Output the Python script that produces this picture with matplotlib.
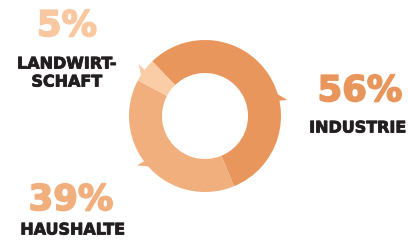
import numpy as np
import matplotlib
matplotlib.use("Agg")
from matplotlib import pyplot as plt
from matplotlib import patheffects as pe
from matplotlib.patches import Polygon

# data
labels = ["INDUSTRIE", "HAUSHALTE", "LANDWIRT-\nSCHAFT"]
shares = [56, 39, 5]
colors = ["#E9965D", "#F0AF7D", "#FBCDA7"]
pct_colors = ["#E9965D", "#F0AF7D", "#FAC8A0"]
# where the labels sit (pixel coords, y from top)
pct_pos = [(360, 91), (71, 200), (67, 26)]
name_pos = [(358, 128), (73, 230), (67, 73)]
# little arrow heads on the ring (angle in degrees)
arrow_angles = [12, 217, 143]

W, H = 408, 242
cx, cy, r_out, width = 205, 116, 76, 33

fig = plt.figure(figsize=(W / 100, H / 100), dpi=100)
ax = fig.add_axes([0, 0, 1, 1])

ax.pie(shares, colors=colors, startangle=134, counterclock=False,
       center=(cx, H - cy), radius=r_out, frame=True,
       wedgeprops=dict(width=width, linewidth=0))
ax.set_xlim(0, W)
ax.set_ylim(0, H)
ax.set_aspect("equal")
ax.axis("off")

# arrow heads sticking out of the ring, pointing clockwise
for ang, col in zip(arrow_angles, colors):
    a = np.deg2rad(ang)
    b = np.deg2rad(ang + 8)
    p1 = (cx + (r_out - 4) * np.cos(a), H - cy + (r_out - 4) * np.sin(a))
    p2 = (cx + (r_out - 4) * np.cos(b), H - cy + (r_out - 4) * np.sin(b))
    t = np.deg2rad(ang - 1)
    tip = (cx + (r_out + 8) * np.cos(t), H - cy + (r_out + 8) * np.sin(t))
    ax.add_patch(Polygon([p1, p2, tip], closed=True, color=col, lw=0))

for i in range(len(shares)):
    x, y = pct_pos[i]
    ax.text(x, H - y, f"{shares[i]}%", ha="center", va="center",
            fontsize=25.5, fontweight="bold", family="DejaVu Sans", color=pct_colors[i],
            path_effects=[pe.withStroke(linewidth=1.2, foreground=pct_colors[i])])
    x, y = name_pos[i]
    ax.text(x, H - y, labels[i], ha="center", va="center", linespacing=1.25,
            fontsize=11.5, fontweight="bold", family="DejaVu Sans", color="#231F20",
            path_effects=[pe.withStroke(linewidth=0.6, foreground="#231F20")])

fig.savefig("out.png", dpi=100)
